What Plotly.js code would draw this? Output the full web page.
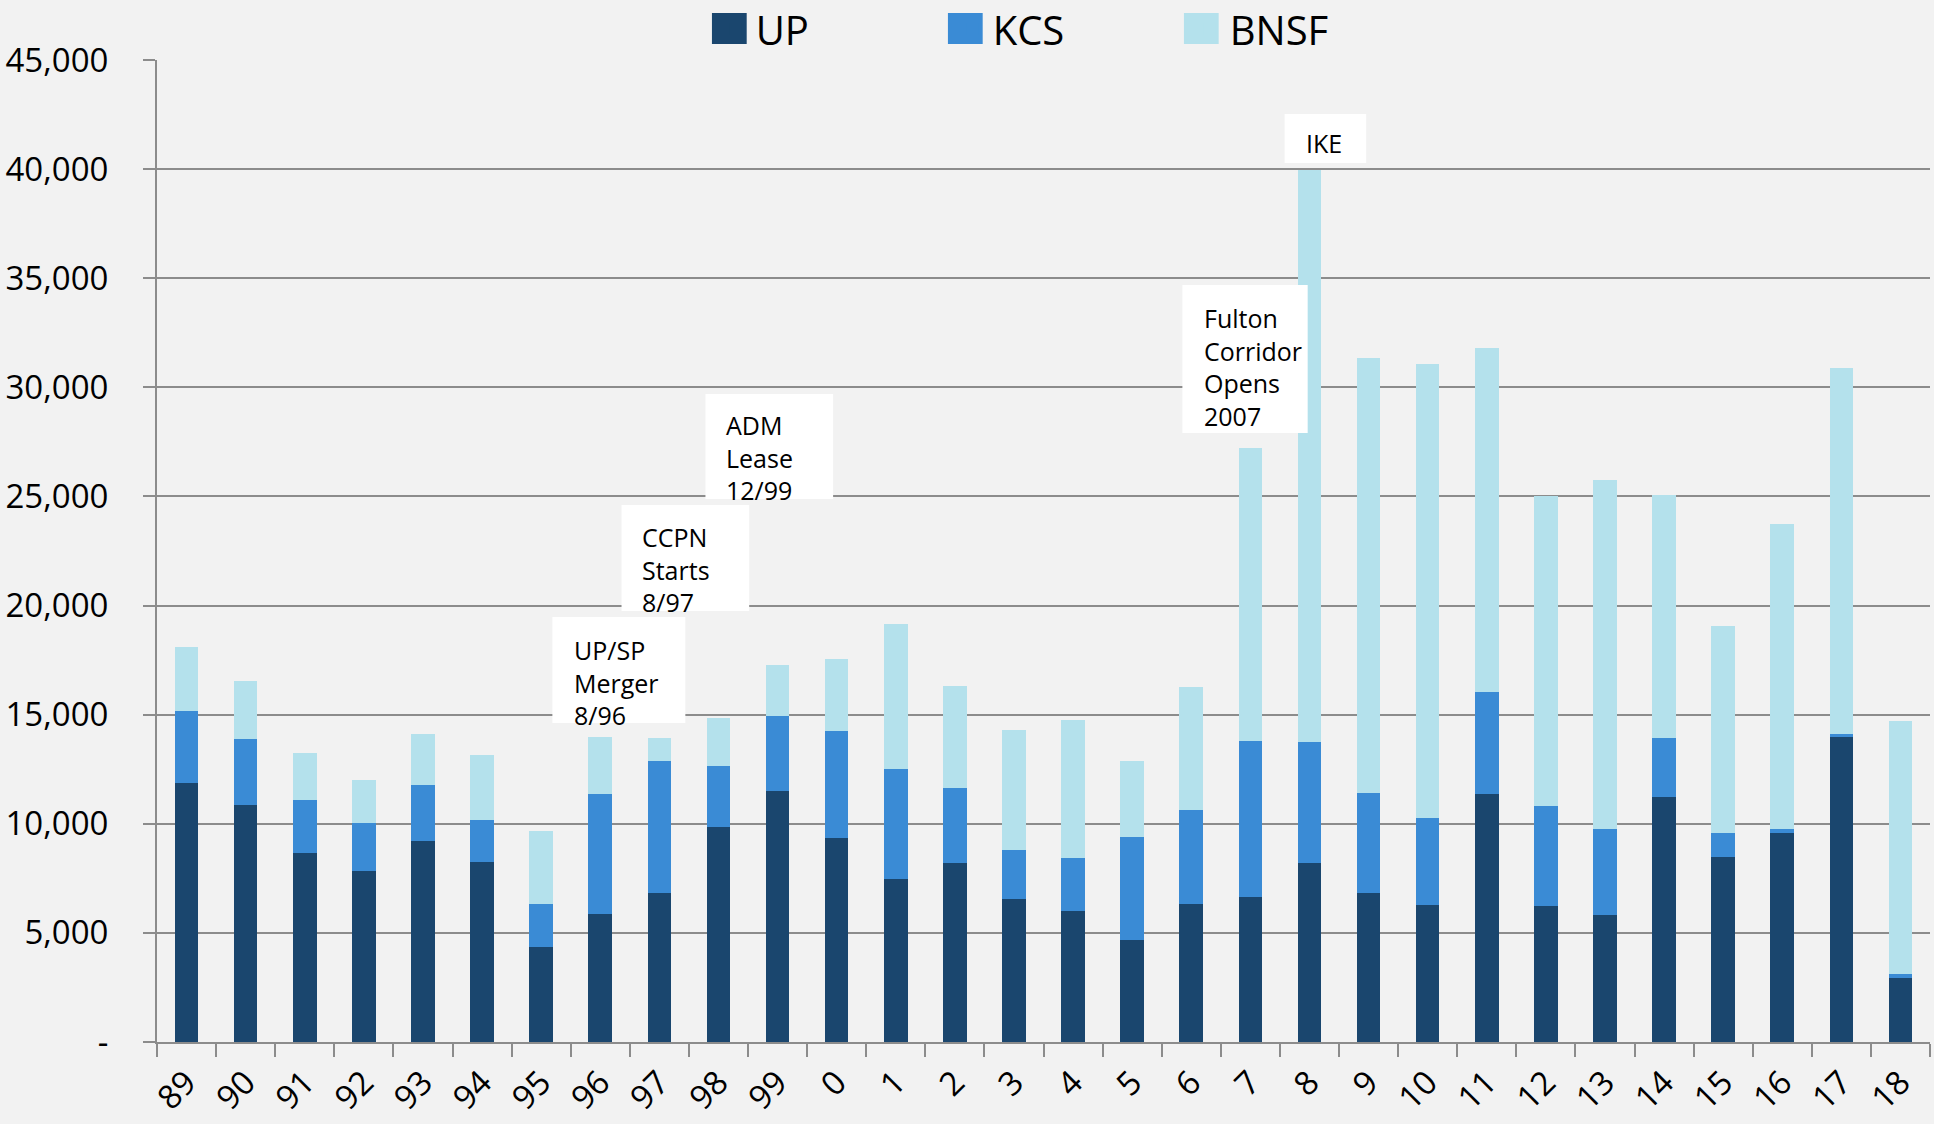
<!DOCTYPE html>
<html>
<head>
<meta charset="utf-8">
<script src="https://cdn.plot.ly/plotly-3.0.1.min.js"></script>
<style>html,body{margin:0;padding:0;background:#f2f2f2;}#chart{width:1934px;height:1124px;}</style>
</head>
<body>
<div id="chart"></div>
<script>
// Categories (years)
const years = ['89','90','91','92','93','94','95','96','97','98','99','0','1','2','3','4','5','6','7','8','9','10','11','12','13','14','15','16','17','18'];

// Series values
const upValues   = [11890,10860,8680,7850,9200,8250,4360,5850,6840,9870,11480,9350,7480,8200,6550,6000,4680,6330,6630,8200,6840,6300,11370,6230,5840,11240,8470,9580,13960,2930];
const kcsValues  = [3290,3030,2410,2190,2600,1930,1960,5530,6040,2770,3440,4880,5050,3430,2260,2430,4700,4300,7170,5560,4570,3980,4690,4590,3940,2680,1110,200,140,170];
const bnsfValues = [2940,2670,2160,1960,2310,2990,3330,2600,1070,2220,2350,3330,6640,4700,5480,6340,3500,5650,13410,26220,19930,20770,15720,14210,15980,11150,9490,13940,16790,11630];

// Series names
const seriesNames = ['UP','KCS','BNSF'];

// Y tick values and labels
const yTickVals  = [0,5000,10000,15000,20000,25000,30000,35000,40000,45000];
const yTickTexts = ['-','5,000','10,000','15,000','20,000','25,000','30,000','35,000','40,000','45,000'];

// Event labels
const eventTexts = ['UP/SP<br>Merger<br>8/96','CCPN<br>Starts<br>8/97','ADM<br>Lease<br>12/99','Fulton<br>Corridor<br>Opens<br>2007','IKE'];

const colors = ['#1a466e','#3a8bd5','#b4e1ec'];
const allValues = [upValues, kcsValues, bnsfValues];

const traces = allValues.map((vals, i) => ({
  type: 'bar',
  name: seriesNames[i],
  x: years,
  y: vals,
  marker: {color: colors[i], line: {width: 0}},
  hoverinfo: 'x+y+name'
}));

const grid = '#8c8c8c';
const labelFont = 'Open Sans, sans-serif';

// event box geometry (layout, in axis units)
const boxes = [
  {x0: 6.19, x1: 8.44, y0: 14617, y1: 19474, tx: 6.53, ty: 16495},
  {x0: 7.36, x1: 9.52, y0: 19748, y1: 24605, tx: 7.68, ty: 21673},
  {x0: 8.78, x1: 10.94, y0: 24880, y1: 29691, tx: 9.10, ty: 26805},
  {x0: 16.85, x1: 18.97, y0: 27904, y1: 34686, tx: 17.19, ty: 30929},
  {x0: 18.58, x1: 19.96, y0: 40276, y1: 42521, tx: 18.90, ty: 41192}
];

const shapes = boxes.map(b => ({
  type: 'rect', xref: 'x', yref: 'y', layer: 'above',
  x0: b.x0, x1: b.x1, y0: b.y0, y1: b.y1,
  fillcolor: '#ffffff', line: {width: 0}
}));

// enlarged legend swatches (legend styling, paper units)
const swatchX = [[0.3130, 0.3326], [0.4461, 0.4657], [0.5792, 0.5988]];
swatchX.forEach((sx, i) => shapes.push({
  type: 'rect', xref: 'paper', yref: 'paper', layer: 'above',
  x0: sx[0], x1: sx[1], y0: 1.0163, y1: 1.0479,
  fillcolor: colors[i], line: {width: 0}
}));

const annotations = boxes.map((b, i) => ({
  xref: 'x', yref: 'y', x: b.tx, y: b.ty,
  xanchor: 'left', yanchor: 'middle', align: 'left',
  text: eventTexts[i], showarrow: false,
  font: {family: labelFont, size: 25, color: '#000000'}
}));

const layout = {
  width: 1934, height: 1124,
  paper_bgcolor: '#f2f2f2', plot_bgcolor: '#f2f2f2',
  margin: {l: 157, r: 4, t: 60, b: 82, autoexpand: false},
  barmode: 'stack',
  bargap: 0.6,
  showlegend: true,
  legend: {
    orientation: 'h', xref: 'paper', yref: 'paper',
    x: 0.3151, y: 1.0316, xanchor: 'left', yanchor: 'middle',
    traceorder: 'normal', entrywidth: 192,
    font: {family: labelFont, size: 40, color: '#000000'},
    bgcolor: 'rgba(0,0,0,0)'
  },
  xaxis: {
    type: 'category',
    showline: true, linecolor: grid, linewidth: 2,
    ticks: 'outside', tickson: 'boundaries', ticklen: 13, tickcolor: grid, tickwidth: 2,
    tickangle: -45, showgrid: false, zeroline: false, ticklabelstandoff: 6,
    tickfont: {family: labelFont, size: 33, color: '#000000'},
    range: [-0.5, 29.5]
  },
  yaxis: {
    range: [0, 45000],
    tickvals: yTickVals, ticktext: yTickTexts,
    showline: true, linecolor: grid, linewidth: 2,
    showgrid: true, gridcolor: grid, gridwidth: 2,
    ticks: 'outside', ticklen: 12, tickcolor: grid, tickwidth: 2,
    zeroline: false, ticklabelstandoff: 28,
    tickfont: {family: labelFont, size: 33, color: '#000000'}
  },
  shapes: shapes,
  annotations: annotations
};

Plotly.newPlot('chart', traces, layout, {displayModeBar: false, staticPlot: true});
</script>
</body>
</html>
